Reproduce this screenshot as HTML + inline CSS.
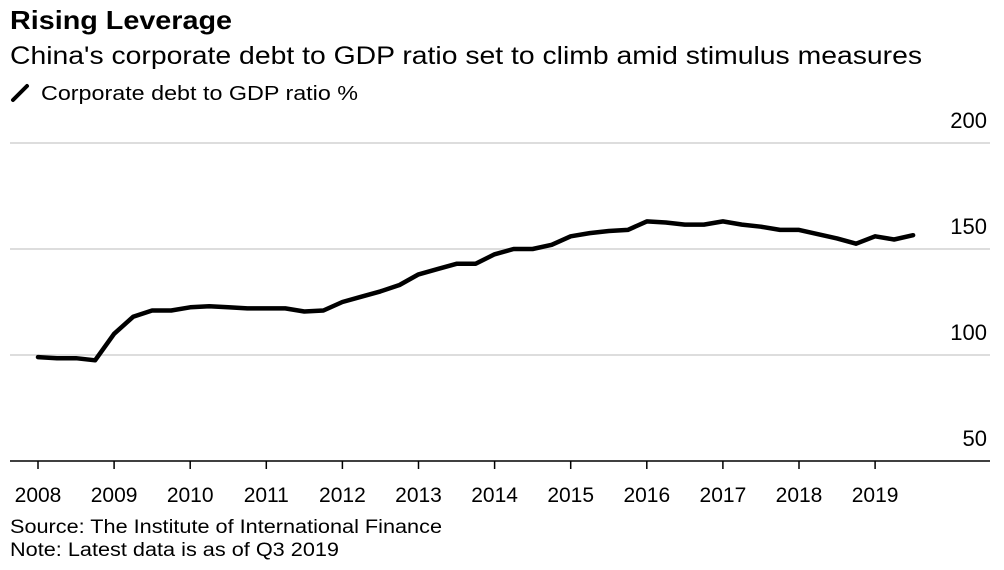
<!DOCTYPE html>
<html><head><meta charset="utf-8"><style>
body{margin:0;background:#fff;width:1004px;height:570px;overflow:hidden;font-family:"Liberation Sans",sans-serif;}
svg{display:block}
</style></head><body>
<svg id="chart" width="1004" height="570" viewBox="0 0 1004 570">
<text x="10" y="29" font-size="26" font-weight="bold" fill="#000" textLength="222" lengthAdjust="spacingAndGlyphs">Rising Leverage</text>
<text x="10" y="64" font-size="25" fill="#000" textLength="912" lengthAdjust="spacingAndGlyphs">China's corporate debt to GDP ratio set to climb amid stimulus measures</text>
<g>
<line x1="13" y1="100" x2="27" y2="86" stroke="#000" stroke-width="4" stroke-linecap="round"/>
<text x="41" y="100" font-size="20" fill="#000" textLength="317" lengthAdjust="spacingAndGlyphs">Corporate debt to GDP ratio %</text>
</g>
<g id="grid"></g><g id="xaxis"></g>
<path id="line" fill="none" stroke="#000" stroke-width="4.5" stroke-linejoin="round" stroke-linecap="round"/>
<text x="10" y="533" font-size="19" fill="#000" textLength="432" lengthAdjust="spacingAndGlyphs">Source: The Institute of International Finance</text>
<text x="10" y="556" font-size="19" fill="#000" textLength="329" lengthAdjust="spacingAndGlyphs">Note: Latest data is as of Q3 2019</text>
</svg>
<script>
const startYear = 2008;
const values = [99,98.5,98.5,97.5,110,118,121,121,122.5,123,122.5,122,122,122,120.5,121,125,127.5,130,133,138,140.5,143,143,147.5,150,150,152,156,157.5,158.5,159,163,162.5,161.5,161.5,163,161.5,160.5,159,159,157,155,152.5,156,154.5,156.5];
const yTicks = [50,100,150,200];
const xTicks = [2008,2009,2010,2011,2012,2013,2014,2015,2016,2017,2018,2019];
const ns = "http://www.w3.org/2000/svg";
function xs(t){return 38 + (t-2008)*76.1;}
function ys(v){return 461 - (v-50)*2.12;}
const grid = document.getElementById('grid');
yTicks.forEach(v=>{
  if(v>50){
    const l=document.createElementNS(ns,'line');
    
    
    l.setAttribute('x1',10);l.setAttribute('x2',990);
    l.setAttribute('y1',ys(v));l.setAttribute('y2',ys(v));
    l.setAttribute('stroke','#ddd');l.setAttribute('stroke-width','2');
    grid.appendChild(l);
  }
  const t=document.createElementNS(ns,'text');
  
  
  t.setAttribute('x',987);t.setAttribute('y',ys(v)-15);
  t.setAttribute('text-anchor','end');t.setAttribute('font-size','22');
  t.textContent=v;grid.appendChild(t);
});
const xa=document.getElementById('xaxis');
const ax=document.createElementNS(ns,'line');


ax.setAttribute('x1',10);ax.setAttribute('x2',990);ax.setAttribute('y1',461);ax.setAttribute('y2',461);
ax.setAttribute('stroke','#000');ax.setAttribute('stroke-width','1.5');
xa.appendChild(ax);
xTicks.forEach(y=>{
  const l=document.createElementNS(ns,'line');
  
  
  l.setAttribute('x1',xs(y));l.setAttribute('x2',xs(y));l.setAttribute('y1',461);l.setAttribute('y2',469);
  l.setAttribute('stroke','#000');l.setAttribute('stroke-width','1.5');
  xa.appendChild(l);
  const t=document.createElementNS(ns,'text');
  
  
  t.setAttribute('x',xs(y));t.setAttribute('y',502);
  t.setAttribute('text-anchor','middle');t.setAttribute('font-size','21');
  t.textContent=y;xa.appendChild(t);
});
document.getElementById('line').setAttribute('d',values.map((v,i)=>(i?'L':'M')+xs(startYear+i/4).toFixed(1)+','+ys(v).toFixed(1)).join(' '));
</script>
</body></html>
